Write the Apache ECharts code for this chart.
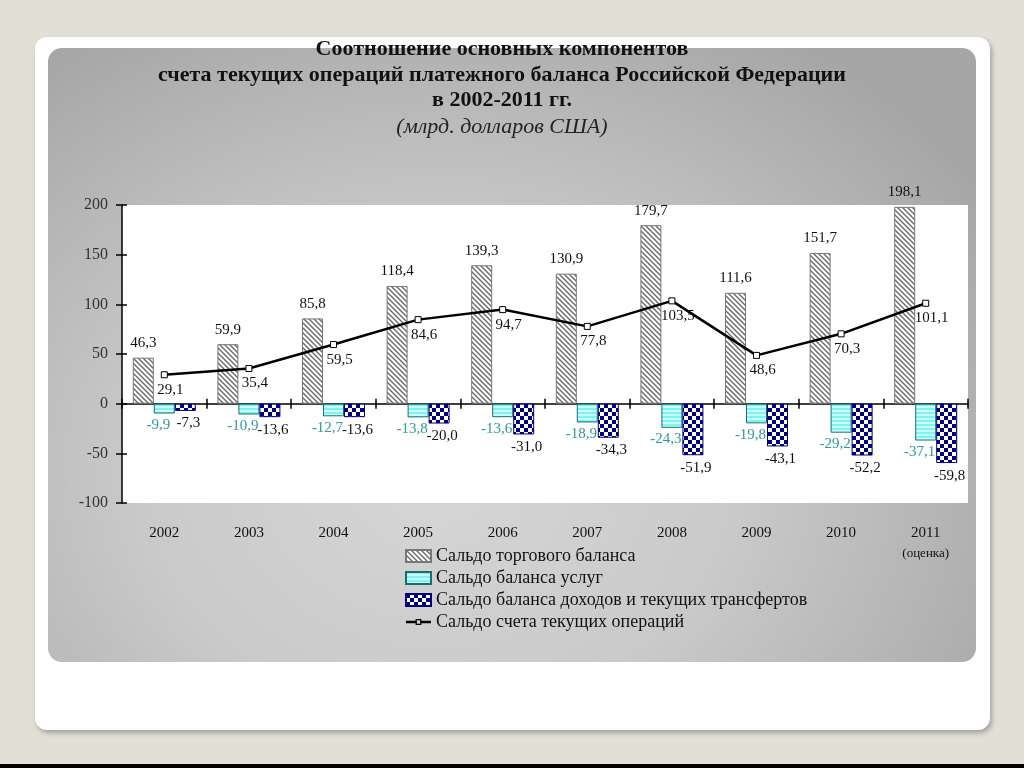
<!DOCTYPE html>
<html>
<head>
<meta charset="utf-8">
<script src="https://cdn.jsdelivr.net/npm/echarts@6/dist/echarts.min.js"></script>
<style>
  html, body { margin: 0; padding: 0; width: 1024px; height: 768px; overflow: hidden; background: #e2dfd6; }
  .frame { position: absolute; left: 35px; top: 37px; width: 955px; height: 693px; background: #ffffff; border-radius: 12px; box-shadow: 2px 3px 5px rgba(0,0,0,0.28); }
  .panel { position: absolute; left: 48px; top: 48px; width: 928px; height: 614px; border-radius: 14px;
           background: radial-gradient(ellipse 70% 85% at 42% 70%, #d6d6d6 0%, #cacaca 45%, #a6a6a6 100%); }
  .strip { position: absolute; left: 0; top: 764px; width: 1024px; height: 4px; background: #000; }
  #chart { position: absolute; left: 0; top: 0; width: 1024px; height: 768px; }
</style>
</head>
<body>
<div class="frame"></div>
<div class="panel"></div>
<div class="strip"></div>
<div id="chart"></div>
<script>
// ---- data ----
const years = ['2002', '2003', '2004', '2005', '2006', '2007', '2008', '2009', '2010', '2011'];
const tradeBalance = [46.3, 59.9, 85.8, 118.4, 139.3, 130.9, 179.7, 111.6, 151.7, 198.1];
const servicesBalance = [-9.9, -10.9, -12.7, -13.8, -13.6, -18.9, -24.3, -19.8, -29.2, -37.1];
const incomeBalance = [-7.3, -13.6, -13.6, -20.0, -31.0, -34.3, -51.9, -43.1, -52.2, -59.8];
const currentAccount = [29.1, 35.4, 59.5, 84.6, 94.7, 77.8, 103.5, 48.6, 70.3, 101.1];
const seriesNames = [
  'Сальдо торгового баланса',
  'Сальдо баланса услуг',
  'Сальдо баланса доходов и текущих трансфертов',
  'Сальдо счета текущих операций'
];
const titleLines = [
  'Соотношение основных компонентов',
  'счета текущих операций платежного баланса Российской Федерации',
  'в 2002-2011 гг.'
];
const subtitleText = '(млрд. долларов США)';
const estimateNote = '(оценка)';

const FONT = 'Liberation Serif';
const fmt = v => v.toFixed(1).replace('.', ',');

function tile(w, h, draw) {
  const c = document.createElement('canvas');
  c.width = w; c.height = h;
  draw(c.getContext('2d'));
  return c;
}
const hatch = tile(5, 5, g => {
  g.fillStyle = '#ffffff'; g.fillRect(0, 0, 5, 5);
  g.strokeStyle = '#6a6a6a'; g.lineWidth = 1.4;
  g.beginPath();
  g.moveTo(-1, -1); g.lineTo(6, 6);
  g.moveTo(-1, 4); g.lineTo(1, 6);
  g.moveTo(4, -1); g.lineTo(6, 1);
  g.stroke();
});
const stripes = tile(2, 4, g => {
  g.fillStyle = '#7ff2f2'; g.fillRect(0, 0, 2, 2);
  g.fillStyle = '#ccffff'; g.fillRect(0, 2, 2, 2);
});
const checker = tile(8, 8, g => {
  g.fillStyle = '#ffffff'; g.fillRect(0, 0, 8, 8);
  g.fillStyle = '#000080'; g.fillRect(0, 0, 4, 4); g.fillRect(4, 4, 4, 4);
});

const lineLegendIcon = 'path://M0,4.7L10,4.7L10,3L16,3L16,4.7L26,4.7L26,7.3L16,7.3L16,9L10,9L10,7.3L0,7.3Z' +
  'M11.3,4.3L11.3,7.7L14.7,7.7L14.7,4.3Z';

const chart = echarts.init(document.getElementById('chart'), null, { renderer: 'canvas' });

const titleTops = [38, 64, 89];
const titles = titleLines.map((t, i) => ({
  text: t, left: 502, textAlign: 'center', top: titleTops[i], padding: 0,
  textStyle: { fontFamily: FONT, fontWeight: 'bold', fontSize: 22, color: '#111' }
}));
titles.push({
  text: subtitleText, left: 502, textAlign: 'center', top: 116, padding: 0,
  textStyle: { fontFamily: FONT, fontStyle: 'italic', fontWeight: 'normal', fontSize: 22, color: '#222' }
});

const grid = { left: 122, right: 56, top: 205, bottom: 265, show: true, backgroundColor: '#ffffff', borderWidth: 0, containLabel: false };

const option = {
  animation: false,
  title: titles,
  grid: grid,
  legend: {
    orient: 'vertical', left: 405, top: 547, padding: 0, itemGap: 4, itemWidth: 25, itemHeight: 12,
    textStyle: { fontFamily: FONT, fontSize: 18, color: '#111', lineHeight: 18 },
    data: [
      { name: seriesNames[0], icon: 'rect' },
      { name: seriesNames[1], icon: 'rect' },
      { name: seriesNames[2], icon: 'rect' },
      { name: seriesNames[3], icon: lineLegendIcon, itemStyle: { color: '#000', borderWidth: 0 } }
    ]
  },
  xAxis: [
    {
      type: 'category', data: years, position: 'bottom',
      axisLine: { show: false, onZero: false }, axisTick: { show: false },
      axisLabel: {
        interval: 0, margin: 21, fontFamily: FONT, fontSize: 15, color: '#111', lineHeight: 18,
        formatter: v => v === '2011' ? v + '\n{s|' + estimateNote + '}' : v,
        rich: { s: { fontFamily: FONT, fontSize: 13, color: '#111', lineHeight: 24 } }
      }
    },
    {
      type: 'category', data: years, position: 'bottom',
      axisLine: { show: true, onZero: true, onZeroAxisIndex: 0, lineStyle: { color: '#000', width: 1.5 } },
      axisTick: { show: true, interval: 0, length: 5, inside: false, lineStyle: { color: '#000', width: 1.5 } },
      axisLabel: { show: false }
    },
    {
      type: 'category', data: years, position: 'bottom',
      axisLine: { show: false, onZero: true, onZeroAxisIndex: 0 },
      axisTick: { show: true, interval: 0, length: 5, inside: true, lineStyle: { color: '#000', width: 1.5 } },
      axisLabel: { show: false }
    }
  ],
  yAxis: [
    {
      type: 'value', min: -100, max: 200, interval: 50, position: 'left',
      axisLine: { show: true, lineStyle: { color: '#000', width: 1.5 } },
      axisTick: { show: true, length: 6, inside: false, lineStyle: { color: '#000', width: 1.5 } },
      axisLabel: { margin: 14, fontFamily: FONT, fontSize: 16, color: '#333' },
      splitLine: { show: false }
    },
    {
      type: 'value', min: -100, max: 200, interval: 50, position: 'left',
      axisLine: { show: false },
      axisTick: { show: true, length: 5, inside: true, lineStyle: { color: '#000', width: 1.5 } },
      axisLabel: { show: false }, splitLine: { show: false }
    }
  ],
  series: [
    {
      name: seriesNames[0], type: 'bar', data: tradeBalance, barWidth: 21, barGap: '0%',
      itemStyle: { color: { image: hatch, repeat: 'repeat' }, borderColor: '#777', borderWidth: 1 },
      label: { show: true, position: 'top', distance: 7, formatter: p => fmt(p.value),
               fontFamily: FONT, fontSize: 15, color: '#111' }
    },
    {
      name: seriesNames[1], type: 'bar', data: servicesBalance, barWidth: 21, barGap: '0%',
      itemStyle: { color: { image: stripes, repeat: 'repeat' }, borderColor: '#1a6e6e', borderWidth: 1 },
      label: { show: true, position: 'bottom', distance: 4, offset: [-6, 0], formatter: p => fmt(p.value),
               fontFamily: FONT, fontSize: 15, color: '#2f9a9a' }
    },
    {
      name: seriesNames[2], type: 'bar', data: incomeBalance, barWidth: 21, barGap: '0%',
      itemStyle: { color: { image: checker, repeat: 'repeat' }, borderColor: '#000080', borderWidth: 1 },
      label: { show: true, position: 'bottom', distance: 5, offset: [3, 0], formatter: p => fmt(p.value),
               fontFamily: FONT, fontSize: 15, color: '#111' }
    },
    {
      name: seriesNames[3], type: 'line', data: currentAccount, z: 5,
      symbol: 'rect', symbolSize: 6, showAllSymbol: true,
      lineStyle: { color: '#000', width: 2.5 },
      itemStyle: { color: '#ffffff', borderColor: '#000', borderWidth: 1 },
      label: { show: true, position: 'bottom', distance: 4, offset: [6, 0], formatter: p => fmt(p.value),
               fontFamily: FONT, fontSize: 15, color: '#111' }
    }
  ]
};
chart.setOption(option);
</script>
</body>
</html>
